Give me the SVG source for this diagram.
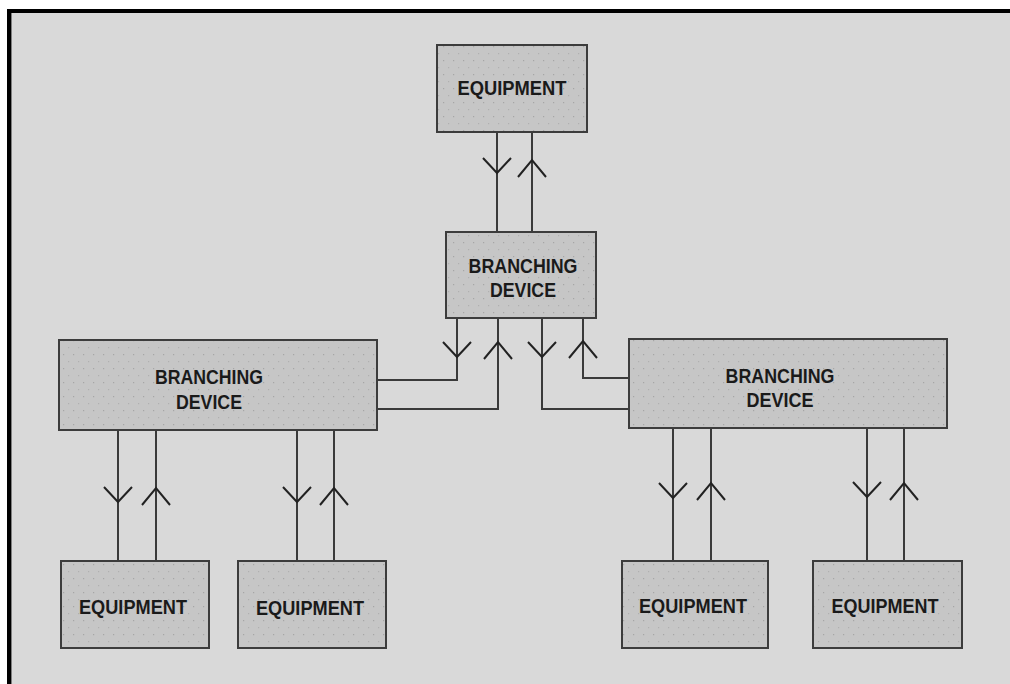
<svg xmlns="http://www.w3.org/2000/svg" xmlns:xlink="http://www.w3.org/1999/xlink" width="1010" height="684" viewBox="0 0 1010 684">
<style>
.box{fill:url(#stip);stroke:#3c3c3c;stroke-width:2}
.lbl{font-family:"Liberation Sans",Arial,sans-serif;font-weight:bold;font-size:20px;fill:#1a1a1a;text-anchor:middle}
.wire{fill:none;stroke:#3a3a3a;stroke-width:2}
.ah{fill:none;stroke:#222;stroke-width:2}
</style>
<defs>
<pattern id="stip" width="10" height="14" patternUnits="userSpaceOnUse">
<rect width="10" height="14" fill="#c6c6c6"/>
<rect x="3" y="4" width="1.2" height="1.2" fill="#a6a6a6"/>
<rect x="8" y="11" width="1.2" height="1.2" fill="#b0b0b0"/>
</pattern>
<path id="ad" d="M-14,-15 L0,0 L14,-15"/>
<path id="au" d="M-14,17 L0,0 L14,17"/>
</defs>
<rect width="1010" height="684" fill="#ffffff"/>
<rect x="12" y="13" width="998" height="671" fill="#d9d9d9"/>
<rect x="7" y="9" width="1003" height="4" fill="#000"/>
<rect x="7" y="9" width="4.5" height="675" fill="#000"/>

<g id="connectors">
<path class="wire" d="M497,132 V232 M532,132 V232"/>
<path class="wire" d="M457,318 V380 H377 M498,318 V409 H377 M542,318 V409 H629 M583,318 V378 H629"/>
<path class="wire" d="M118,430 V561 M156,430 V561 M297,430 V561 M334,430 V561"/>
<path class="wire" d="M673,428 V561 M711,428 V561 M867,428 V561 M904,428 V561"/>
<g class="ah">
<use xlink:href="#ad" x="497" y="173"/>
<use xlink:href="#au" x="532" y="160"/>
<use xlink:href="#ad" x="457" y="357"/>
<use xlink:href="#au" x="498" y="342"/>
<use xlink:href="#ad" x="542" y="357"/>
<use xlink:href="#au" x="583" y="341"/>
<use xlink:href="#ad" x="118" y="502"/>
<use xlink:href="#au" x="156" y="488"/>
<use xlink:href="#ad" x="297" y="502"/>
<use xlink:href="#au" x="334" y="488"/>
<use xlink:href="#ad" x="673" y="498"/>
<use xlink:href="#au" x="711" y="483"/>
<use xlink:href="#ad" x="867" y="497"/>
<use xlink:href="#au" x="904" y="483"/>
</g>
</g>

<g id="eq-top">
<rect class="box" x="437" y="45" width="150" height="87"/>
<text class="lbl" x="512" y="95" textLength="109" lengthAdjust="spacingAndGlyphs">EQUIPMENT</text>
</g>
<g id="bd-center">
<rect class="box" x="446" y="232" width="150" height="86"/>
<text class="lbl" x="523" y="273" textLength="109" lengthAdjust="spacingAndGlyphs">BRANCHING</text>
<text class="lbl" x="523" y="297" textLength="66" lengthAdjust="spacingAndGlyphs">DEVICE</text>
</g>
<g id="bd-left">
<rect class="box" x="59" y="340" width="318" height="90"/>
<text class="lbl" x="209" y="384" textLength="108" lengthAdjust="spacingAndGlyphs">BRANCHING</text>
<text class="lbl" x="209" y="409" textLength="66" lengthAdjust="spacingAndGlyphs">DEVICE</text>
</g>
<g id="bd-right">
<rect class="box" x="629" y="339" width="318" height="89"/>
<text class="lbl" x="780" y="383" textLength="109" lengthAdjust="spacingAndGlyphs">BRANCHING</text>
<text class="lbl" x="780" y="407" textLength="67" lengthAdjust="spacingAndGlyphs">DEVICE</text>
</g>
<g id="eq-1">
<rect class="box" x="61" y="561" width="148" height="87"/>
<text class="lbl" x="133" y="614" textLength="108" lengthAdjust="spacingAndGlyphs">EQUIPMENT</text>
</g>
<g id="eq-2">
<rect class="box" x="238" y="561" width="148" height="87"/>
<text class="lbl" x="310" y="615" textLength="108" lengthAdjust="spacingAndGlyphs">EQUIPMENT</text>
</g>
<g id="eq-3">
<rect class="box" x="622" y="561" width="146" height="87"/>
<text class="lbl" x="693" y="613" textLength="108" lengthAdjust="spacingAndGlyphs">EQUIPMENT</text>
</g>
<g id="eq-4">
<rect class="box" x="813" y="561" width="149" height="87"/>
<text class="lbl" x="885" y="613" textLength="107" lengthAdjust="spacingAndGlyphs">EQUIPMENT</text>
</g>
</svg>
